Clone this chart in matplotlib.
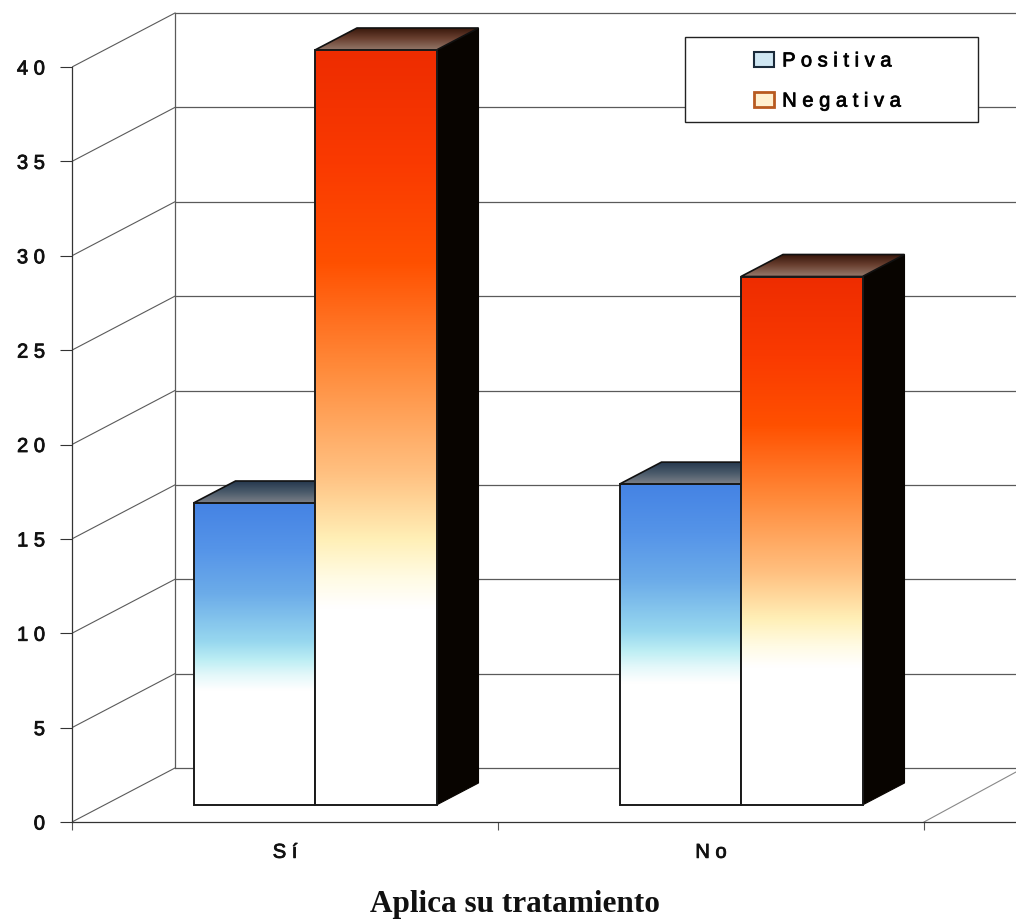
import numpy as np
import matplotlib
matplotlib.use("Agg")
import matplotlib.pyplot as plt
import matplotlib.patheffects as pe
from matplotlib.colors import LinearSegmentedColormap as LSC
from matplotlib.patches import Polygon, Rectangle, Patch

categories = ["S í", "N o"]
series_names = ["P o s i t i v a", "N e g a t i v a"]
positiva = [16, 17]
negativa = [40, 28]
y_ticks = [0, 5, 10, 15, 20, 25, 30, 35, 40]
y_labels = ["0", "5", "1 0", "1 5", "2 0", "2 5", "3 0", "3 5", "4 0"]

W, H = 1016, 920
PX_Y = 18.875            # pixels per value unit
PX_X = 426.0             # pixels per category
fig = plt.figure(figsize=(W / 100, H / 100), dpi=100, facecolor="white")
ax = fig.add_axes([72 / W, (H - 823) / H, (W - 72) / W, 823 / H])
xlim = (-0.5, (W - 285) / PX_X)
ylim = (0, 823 / PX_Y)
plt.rcParams["font.family"] = ["Liberation Sans"]

# depth of the chart box and of the bars, in data units
wall_dx, wall_dy = 103 / PX_X, 54 / PX_Y
bar_dx, bar_dy = 42 / PX_X, 22 / PX_Y
front_dx, front_dy = 30 / PX_X, 17 / PX_Y
bar_w = 121.5 / PX_X

grid_c = "#5a5a5a"
# back wall, side wall and floor
for v in range(0, 45, 5):
    yb = v + wall_dy
    ax.plot([-0.5 + wall_dx, xlim[1]], [yb, yb], color=grid_c, lw=0.9, zorder=1, solid_capstyle="butt")
    ax.plot([-0.5, -0.5 + wall_dx], [v, yb], color=grid_c, lw=0.8, zorder=1)
ax.plot([-0.5 + wall_dx] * 2, [wall_dy, 40 + wall_dy], color=grid_c, lw=0.9, zorder=1)
ax.plot([1.5, 1.5 + 92 / PX_X], [0, 50 / PX_Y], color="#888888", lw=0.8, zorder=1)


def grad_cmap(stops):
    return LSC.from_list("g", stops)


blue = grad_cmap([(0, "#ffffff"), (0.38, "#ffffff"), (0.43, "#e4f8fa"), (0.48, "#bdeef4"), (0.54, "#98d8ef"),
                  (0.70, "#6cace9"), (0.85, "#5594e8"), (1, "#4583e4")])
red = grad_cmap([(0, "#ffffff"), (0.26, "#ffffff"), (0.30, "#fffbe4"), (0.35, "#fff0b8"), (0.44, "#ffc080"),
                 (0.58, "#ff8a3a"), (0.72, "#ff5000"), (0.85, "#fa3a00"), (1, "#ee2c00")])
blue_top = grad_cmap(["#7c8088", "#4a5a6a", "#25384e"])
red_top = grad_cmap(["#94786a", "#6a4030", "#341408"])
ramp = np.linspace(0, 1, 256).reshape(-1, 1)


def draw_bar(x0, value, cmap, top_cmap, z, side=True):
    x1 = x0 + bar_w
    y0 = front_dy
    y1 = value + front_dy
    if side:
        ax.add_patch(Polygon([(x1, y0), (x1 + bar_dx, y0 + bar_dy), (x1 + bar_dx, y1 + bar_dy), (x1, y1)],
                             closed=True, fc="#080400", ec="#080400", lw=0.8, zorder=z))
    poly = Polygon([(x0, y1), (x0 + bar_dx, y1 + bar_dy), (x1 + bar_dx, y1 + bar_dy), (x1, y1)],
                   closed=True, fc="none", ec="#111111", lw=1.2, zorder=z + 0.2)
    ax.add_patch(poly)
    im = ax.imshow(ramp, cmap=top_cmap, origin="lower", aspect="auto", zorder=z + 0.1,
                   extent=(x0, x1 + bar_dx, y1, y1 + bar_dy))
    im.set_clip_path(poly)
    ax.imshow(ramp, cmap=cmap, origin="lower", aspect="auto", zorder=z + 0.1,
              extent=(x0, x1, y0, y1))
    ax.add_patch(Rectangle((x0, y0), bar_w, value, fc="none", ec="#1a1a1a", lw=1.4, zorder=z + 0.2))


for i, (p, n) in enumerate(zip(positiva, negativa)):
    c = i + front_dx
    draw_bar(c - bar_w, p, blue, blue_top, 3, side=False)
    draw_bar(c, n, red, red_top, 4)

ax.set_xlim(*xlim)
ax.set_ylim(*ylim)
for s in ("top", "right"):
    ax.spines[s].set_visible(False)
for s in ("left", "bottom"):
    ax.spines[s].set_color("#333333")
    ax.spines[s].set_linewidth(0.9)
ax.spines["left"].set_bounds(0, 40)
ax.set_yticks(y_ticks, y_labels, fontsize=14.5, family="Liberation Sans", color="#111111")
ax.tick_params(axis="y", length=9, width=0.8, pad=10.5, color="#333333")
ax.set_xticks([-0.5, 0.5, 1.5], ["", "", ""])
ax.set_xticks([0, 1], categories, minor=True, fontsize=14.5, family="Liberation Sans", color="#111111")
ax.tick_params(axis="x", which="major", length=6, width=0.8, color="#555555")
ax.tick_params(axis="x", which="minor", length=0, pad=15)
ax.set_facecolor("white")
heavy = [pe.withStroke(linewidth=0.6, foreground="#111111")]
for t in ax.get_yticklabels() + ax.get_xticklabels(minor=True):
    t.set_path_effects(heavy)

# legend
fig.add_artist(Rectangle((685 / W, 1 - 123 / H), 293 / W, 85 / H, transform=fig.transFigure,
                         fc="white", ec="#222222", lw=1.0, zorder=6))
handles = [Patch(fc="#cfe6f2", ec="#1a2a3a", lw=1.5), Patch(fc="#fff0d0", ec="#b85a20", lw=2.0)]
leg = fig.legend(handles, series_names, frameon=False, loc="center left",
                 bbox_to_anchor=(754 / W, 1 - 82 / H), handlelength=1.0, borderaxespad=0,
                 handleheight=0.72, handletextpad=0.4, labelspacing=1.05, borderpad=0,
                 prop={"family": "Liberation Sans", "size": 14.5})
leg.set_zorder(7)
for t in leg.get_texts():
    t.set_path_effects(heavy)

fig.text(515 / W, 1 - 905 / H, "Aplica su tratamiento", ha="center", va="center",
         family="Liberation Serif", fontweight="bold", fontsize=22.5, color="#111111")

fig.savefig("out.png", dpi=100)
